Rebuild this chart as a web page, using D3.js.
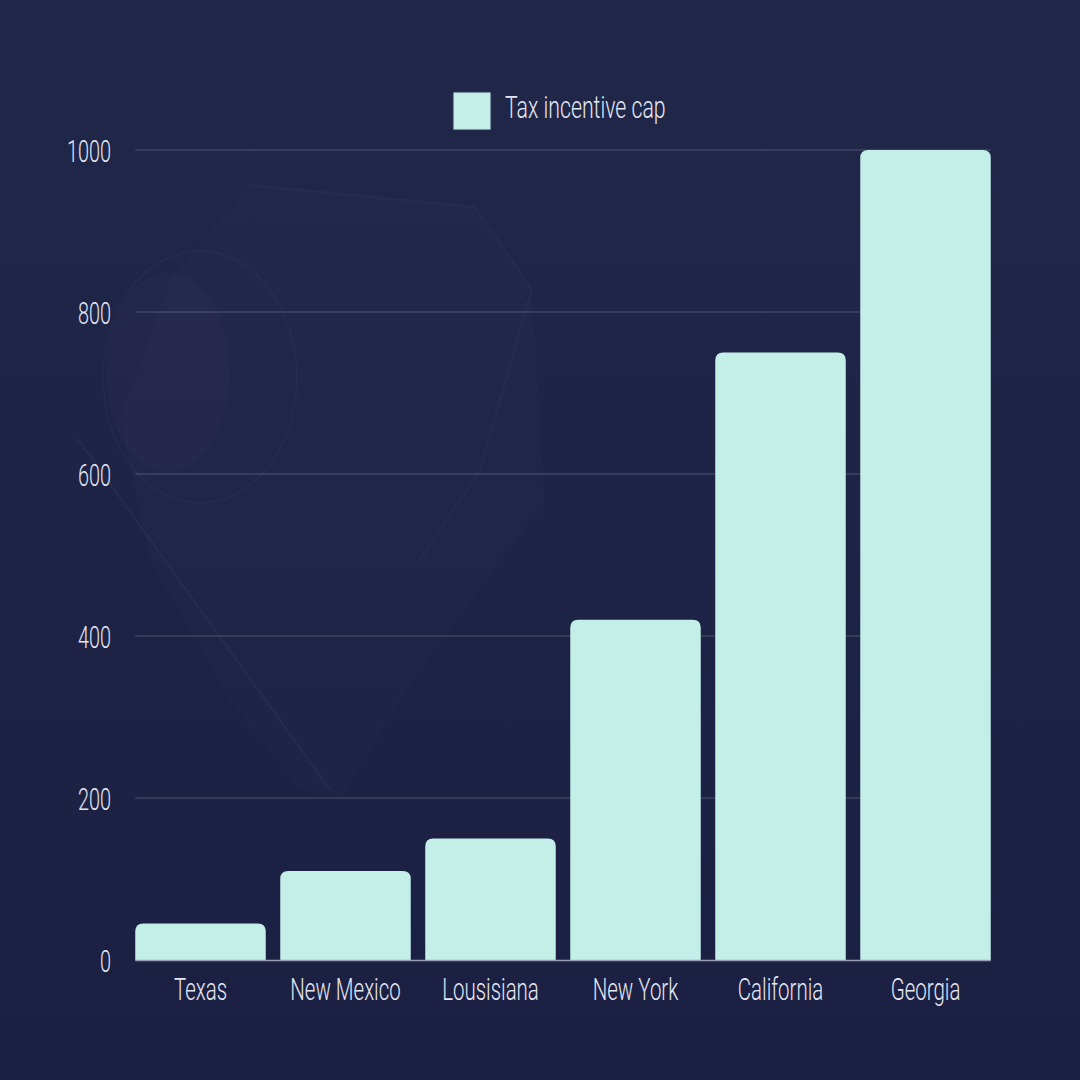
<!DOCTYPE html>
<html>
<head>
<meta charset="utf-8">
<script src="https://cdn.jsdelivr.net/npm/d3@7"></script>
<style>
  html, body { margin: 0; padding: 0; background: #1d2346; }
  svg { display: block; }
  .lbl { font-family: 'Roboto', sans-serif; font-weight: 300; fill: #e4e6f2; }
</style>
</head>
<body>
<svg id="chart"></svg>
<script>
// data
const states = ['Texas', 'New Mexico', 'Lousisiana', 'New York', 'California', 'Georgia'];
const taxCap = [45, 110, 150, 420, 750, 1000];
const yTicks = [0, 200, 400, 600, 800, 1000];
const seriesName = 'Tax incentive cap';

const width = 1080, height = 1080;
const barColor = '#c4efe8';

const svg = d3.select('#chart').attr('width', width).attr('height', height);

// background
const defs = svg.append('defs');
const bg = defs.append('linearGradient').attr('id', 'bg').attr('x1', 0).attr('y1', 0).attr('x2', 0).attr('y2', 1);
bg.append('stop').attr('offset', '0%').attr('stop-color', '#202749');
bg.append('stop').attr('offset', '100%').attr('stop-color', '#1b2043');
svg.append('rect').attr('width', width).attr('height', height).attr('fill', 'url(#bg)');

// faint film-light picture behind the chart
const deco = svg.append('g');
deco.append('path')
  .attr('d', 'M249,184 L475,207 L532,289 L545,505 L478,590 L400,700 L340,800 L300,790 L230,700 L150,560 L120,420 L170,280 Z')
  .attr('fill', '#ffffff').attr('opacity', 0.012);
deco.append('path')
  .attr('d', 'M250,185 L475,207 L532,289 L480,470 L420,560')
  .attr('fill', 'none').attr('stroke', '#ffffff').attr('stroke-opacity', 0.02).attr('stroke-width', 3);
deco.append('ellipse').attr('cx', 200).attr('cy', 377).attr('rx', 97).attr('ry', 126)
  .attr('fill', 'none').attr('stroke', '#ffffff').attr('stroke-opacity', 0.025).attr('stroke-width', 2);
deco.append('ellipse').attr('cx', 168).attr('cy', 372).attr('rx', 62).attr('ry', 100)
  .attr('fill', '#4a3a62').attr('opacity', 0.12);
deco.append('line').attr('x1', 77).attr('y1', 438).attr('x2', 330).attr('y2', 790)
  .attr('stroke', '#ffffff').attr('stroke-opacity', 0.035).attr('stroke-width', 2);

const margin = { top: 150, right: 82, bottom: 120, left: 128 };

const x = d3.scaleBand()
  .domain(states)
  .range([margin.left, width - margin.right])
  .paddingInner(0.1)
  .paddingOuter(0.05);

const y = d3.scaleLinear()
  .domain([0, 1000])
  .range([height - margin.bottom, margin.top]);

const gridLeft = x(states[0]);
const gridRight = x(states[states.length - 1]) + x.bandwidth();

// gridlines
svg.append('g')
  .selectAll('line')
  .data(yTicks.filter(d => d > 0))
  .join('line')
  .attr('x1', gridLeft).attr('x2', gridRight)
  .attr('y1', d => y(d)).attr('y2', d => y(d))
  .attr('stroke', '#ffffff').attr('stroke-opacity', 0.22).attr('stroke-width', 1);

// bars, rounded at the top only
const r = 8;
svg.append('g')
  .selectAll('path')
  .data(states.map((s, i) => ({ state: s, value: taxCap[i] })))
  .join('path')
  .attr('fill', barColor)
  .attr('d', d => {
    const x0 = x(d.state), x1 = x0 + x.bandwidth();
    const y0 = y(0), y1 = y(d.value);
    return `M${x0},${y0} L${x0},${y1 + r} Q${x0},${y1} ${x0 + r},${y1} L${x1 - r},${y1} Q${x1},${y1} ${x1},${y1 + r} L${x1},${y0} Z`;
  });

// y axis
const yAxis = svg.append('g')
  .attr('transform', `translate(${margin.left - 17},0)`)
  .call(d3.axisLeft(y).tickValues(yTicks).tickFormat(d3.format('d')).tickSize(0).tickPadding(0));
yAxis.select('.domain').remove();
yAxis.selectAll('text')
  .attr('class', 'lbl')
  .attr('font-size', 32)
  .attr('x', 0)
  .attr('dy', '0.36em')
  .attr('transform', 'scale(0.62,1)');

// x axis
const xAxis = svg.append('g')
  .attr('transform', `translate(0,${y(0)})`)
  .call(d3.axisBottom(x).tickSize(0).tickPadding(0));
xAxis.select('.domain')
  .attr('d', `M${gridLeft},0.5H${gridRight}`)
  .attr('stroke', '#9a9db5').attr('stroke-width', 1.5);
xAxis.selectAll('text')
  .attr('class', 'lbl')
  .attr('font-size', 32)
  .attr('y', 40)
  .attr('dy', 0)
  .attr('transform', 'scale(0.64,1)');

// legend
const legend = svg.append('g').attr('transform', 'translate(453,92)');
legend.append('rect')
  .attr('width', 38).attr('height', 38)
  .attr('fill', barColor)
  .attr('stroke', '#2a3358').attr('stroke-width', 1);
legend.append('text')
  .attr('class', 'lbl')
  .attr('font-size', 32)
  .attr('transform', 'translate(52,26) scale(0.665,1)')
  .text(seriesName);
</script>
</body>
</html>
